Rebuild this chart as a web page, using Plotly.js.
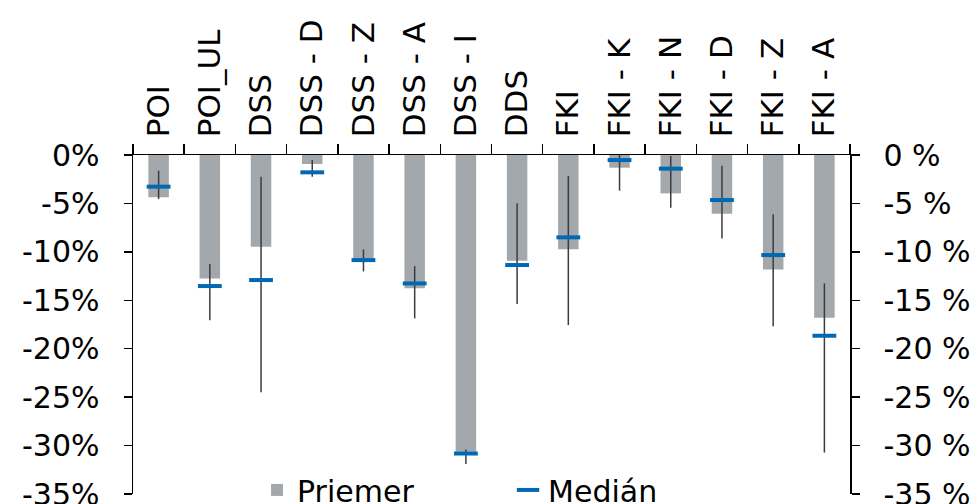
<!DOCTYPE html>
<html>
<head>
<meta charset="utf-8">
<script src="https://cdn.plot.ly/plotly-3.0.1.min.js"></script>
<style>html,body{margin:0;padding:0;background:#fff;}#chart{width:978px;height:504px;}</style>
</head>
<body>
<div id="chart"></div>
<script>
const categories = ['POI','POI_UL','DSS','DSS - D','DSS - Z','DSS - A','DSS - I','DDS','FKI','FKI - K','FKI - N','FKI - D','FKI - Z','FKI - A'];
const meanValues = [-4.37, -12.74, -9.47, -0.93, -11.02, -13.77, -30.65, -10.92, -9.74, -1.31, -3.96, -6.06, -11.81, -16.8];
const medianValues = [-3.27, -13.53, -12.91, -1.79, -10.85, -13.26, -30.82, -11.36, -8.5, -0.52, -1.41, -4.65, -10.33, -18.66];
const rangeTop = [-1.62, -11.26, -2.24, -0.52, -9.74, -11.47, -30.4, -4.99, -2.17, 0, -0.1, -1.1, -6.13, -13.26];
const rangeBottom = [-4.55, -17.05, -24.5, -2.24, -12.02, -16.87, -31.9, -15.39, -17.56, -3.68, -5.44, -8.61, -17.67, -30.72];
const tickValues = [0, -5, -10, -15, -20, -25, -30, -35];
const leftTickText = ['0%', '-5%', '-10%', '-15%', '-20%', '-25%', '-30%', '-35%'];
const rightTickText = ['0 %', '-5 %', '-10 %', '-15 %', '-20 %', '-25 %', '-30 %', '-35 %'];

const errPlus = rangeTop.map((t, i) => t - medianValues[i]);
const errMinus = rangeBottom.map((b, i) => medianValues[i] - b);

const FONT = {family: 'DejaVu Sans, Verdana, sans-serif', size: 30, color: '#000'};
const XFONT = {family: 'DejaVu Sans, Verdana, sans-serif', size: 31, color: '#000'};

const traces = [
  {
    type: 'bar', name: 'Priemer', x: categories, y: meanValues,
    width: 0.4, marker: {color: '#a2a8ab', line: {width: 0}},
    hoverinfo: 'skip'
  },
  {
    type: 'scatter', mode: 'markers', name: 'Medián', x: categories, y: medianValues,
    marker: {symbol: 'line-ew', size: 17, line: {width: 4, color: '#0068b4'}, color: '#0068b4'},
    error_y: {type: 'data', symmetric: false, array: errPlus, arrayminus: errMinus,
              color: '#3c3c3c', thickness: 1.5, width: 0},
    hoverinfo: 'skip'
  },
  {
    type: 'scatter', mode: 'markers', x: [categories[0]], y: [null], yaxis: 'y2',
    showlegend: false, hoverinfo: 'skip'
  }
];

const layout = {
  width: 978, height: 504,
  margin: {l: 133, r: 128, t: 155, b: 10, autoexpand: false},
  paper_bgcolor: '#fff', plot_bgcolor: '#fff',
  font: FONT,
  showlegend: true,
  legend: {orientation: 'h', x: 0.173, xanchor: 'left', y: 0.012, yanchor: 'middle',
           bgcolor: 'rgba(0,0,0,0)', font: FONT, entrywidth: 206, entrywidthmode: 'pixels'},
  xaxis: {
    type: 'category', side: 'top', range: [-0.5, 13.5],
    tickangle: -90, ticks: 'outside', tickson: 'boundaries', ticklen: 10, tickwidth: 1.5, tickcolor: '#000',
    showline: true, linecolor: '#000', linewidth: 1.5, showgrid: false, zeroline: false,
    ticklabelstandoff: 10, tickfont: XFONT, fixedrange: true, ticklabeloverflow: 'allow'
  },
  yaxis: {
    range: [-35, 0], tickvals: tickValues, ticktext: leftTickText,
    ticks: 'outside', ticklen: 8, tickwidth: 1.5, tickcolor: '#000',
    showline: true, linecolor: '#000', linewidth: 1.5, showgrid: false, zeroline: false,
    ticklabelstandoff: 18, tickfont: FONT, fixedrange: true, ticklabeloverflow: 'allow'
  },
  yaxis2: {
    overlaying: 'y', side: 'right', range: [-35, 0], tickvals: tickValues, ticktext: rightTickText,
    ticks: 'outside', ticklen: 8, tickwidth: 1.5, tickcolor: '#000',
    showline: true, linecolor: '#000', linewidth: 1.5, showgrid: false, zeroline: false,
    ticklabelstandoff: 18, tickfont: FONT, fixedrange: true, ticklabeloverflow: 'allow'
  }
};

Plotly.newPlot('chart', traces, layout, {staticPlot: true, displayModeBar: false});
</script>
</body>
</html>
